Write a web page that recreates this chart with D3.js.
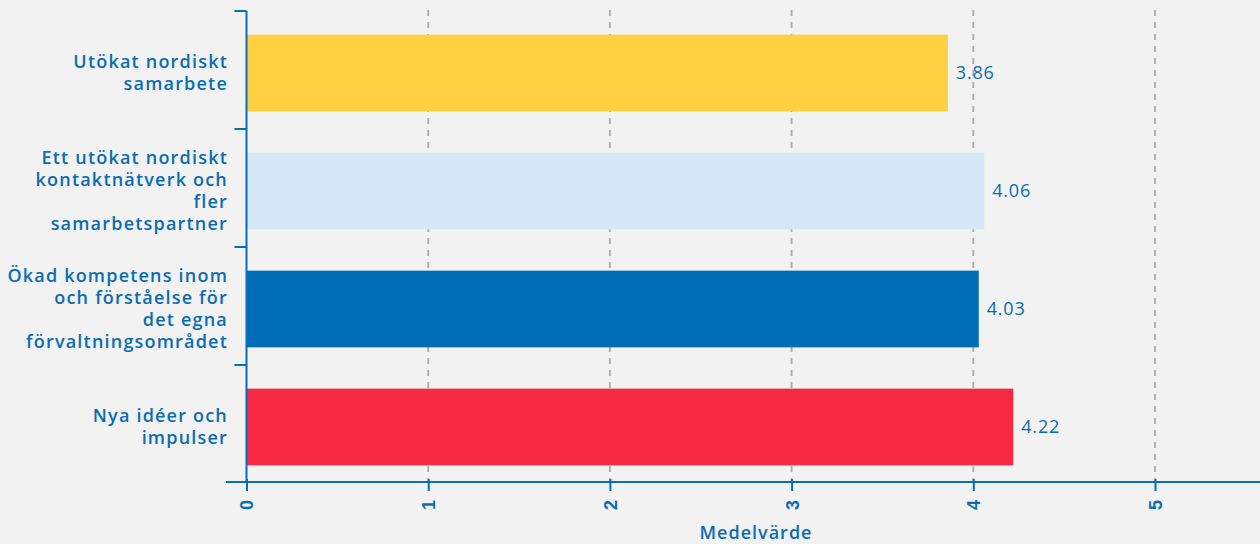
<!DOCTYPE html>
<html>
<head>
<meta charset="utf-8">
<script src="https://cdn.jsdelivr.net/npm/d3@7"></script>
<style>
  html, body { margin: 0; padding: 0; background: #f2f2f2; }
  svg { display: block; font-family: "Open Sans", Lato, sans-serif; }
</style>
</head>
<body>
<svg id="chart" width="1260" height="544"></svg>
<script>
const categories = [
  "Utökat nordiskt\nsamarbete",
  "Ett utökat nordiskt\nkontaktnätverk och\nfler\nsamarbetspartner",
  "Ökad kompetens inom\noch förståelse för\ndet egna\nförvaltningsområdet",
  "Nya idéer och\nimpulser"
];
const values = [3.86, 4.06, 4.03, 4.22];
const barColors = ["#ffd042", "#d4e8f8", "#006eb6", "#f42941"];
const xTicks = [0, 1, 2, 3, 4, 5];
const xTitle = "Medelvärde";

const blue = "#0a6cb3";
const svg = d3.select("#chart");

const x = d3.scaleLinear().domain([0, 5]).range([246.5, 1155]);
// category bands (axis ticks) and the bars inside them
const yBand = d3.scaleBand().domain(categories).range([11, 483]);
const y = d3.scaleBand().domain(categories).range([14, 486])
    .paddingInner(0.35).paddingOuter(0.175);

// dashed grid
svg.append("g").selectAll("line")
    .data(xTicks.slice(1))
    .enter().append("line")
    .attr("x1", d => x(d)).attr("x2", d => x(d))
    .attr("y1", 10).attr("y2", 482)
    .attr("stroke", "#aaaaaa")
    .attr("stroke-width", 1.8)
    .attr("stroke-dasharray", "6,6");

// bars
svg.append("g").selectAll("rect")
    .data(values)
    .enter().append("rect")
    .attr("x", x(0))
    .attr("y", (d, i) => y(categories[i]))
    .attr("width", d => x(d) - x(0))
    .attr("height", y.bandwidth())
    .attr("fill", (d, i) => barColors[i]);

// value labels
svg.append("g").selectAll("text")
    .data(values)
    .enter().append("text")
    .attr("x", d => x(d) + 8)
    .attr("y", (d, i) => y(categories[i]) + y.bandwidth() / 2)
    .attr("dy", "0.36em")
    .attr("fill", blue)
    .style("font-size", "18px")
    .style("letter-spacing", "0.8px")
    .text(d => d.toFixed(2));

// x axis
const xAxis = svg.append("g")
    .attr("transform", "translate(0,482)")
    .call(d3.axisBottom(x).tickValues(xTicks).tickFormat(d3.format("d")).tickSize(9).tickPadding(10));
xAxis.select(".domain").remove();
xAxis.append("line")
    .attr("x1", 226).attr("x2", 1260)
    .attr("stroke", blue).attr("stroke-width", 2);
xAxis.selectAll(".tick line")
    .attr("y1", -3)
    .attr("stroke", blue).attr("stroke-width", 2);
xAxis.selectAll(".tick text")
    .attr("fill", blue)
    .attr("transform", "rotate(-90)")
    .attr("x", -18).attr("y", 0).attr("dy", "0.36em")
    .style("text-anchor", "end")
    .style("font-size", "18px")
    .style("font-weight", "600");

// y axis
const yAxis = svg.append("g");
yAxis.append("line")
    .attr("x1", x(0)).attr("x2", x(0))
    .attr("y1", 11).attr("y2", 482)
    .attr("stroke", blue).attr("stroke-width", 2);
yAxis.selectAll("line.tk")
    .data(categories)
    .enter().append("line")
    .attr("class", "tk")
    .attr("x1", x(0) - 12).attr("x2", x(0))
    .attr("y1", d => yBand(d))
    .attr("y2", d => yBand(d))
    .attr("stroke", blue).attr("stroke-width", 2);

const lineH = 22;
yAxis.selectAll("text")
    .data(categories)
    .enter().append("text")
    .attr("fill", blue)
    .style("font-size", "18px")
    .style("font-weight", "600")
    .style("letter-spacing", "1.2px")
    .style("text-anchor", "end")
    .each(function (d) {
      const lines = d.split("\n");
      const cy = y(d) + y.bandwidth() / 2;
      const t = d3.select(this);
      lines.forEach((ln, k) => {
        t.append("tspan")
          .attr("x", 228)
          .attr("y", cy + (k - (lines.length - 1) / 2) * lineH)
          .attr("dy", "0.36em")
          .text(ln);
      });
    });

// x title
svg.append("text")
    .attr("x", 756).attr("y", 539)
    .attr("fill", blue)
    .style("text-anchor", "middle")
    .style("font-size", "18px")
    .style("font-weight", "600")
    .style("letter-spacing", "1px")
    .text(xTitle);
</script>
</body>
</html>
